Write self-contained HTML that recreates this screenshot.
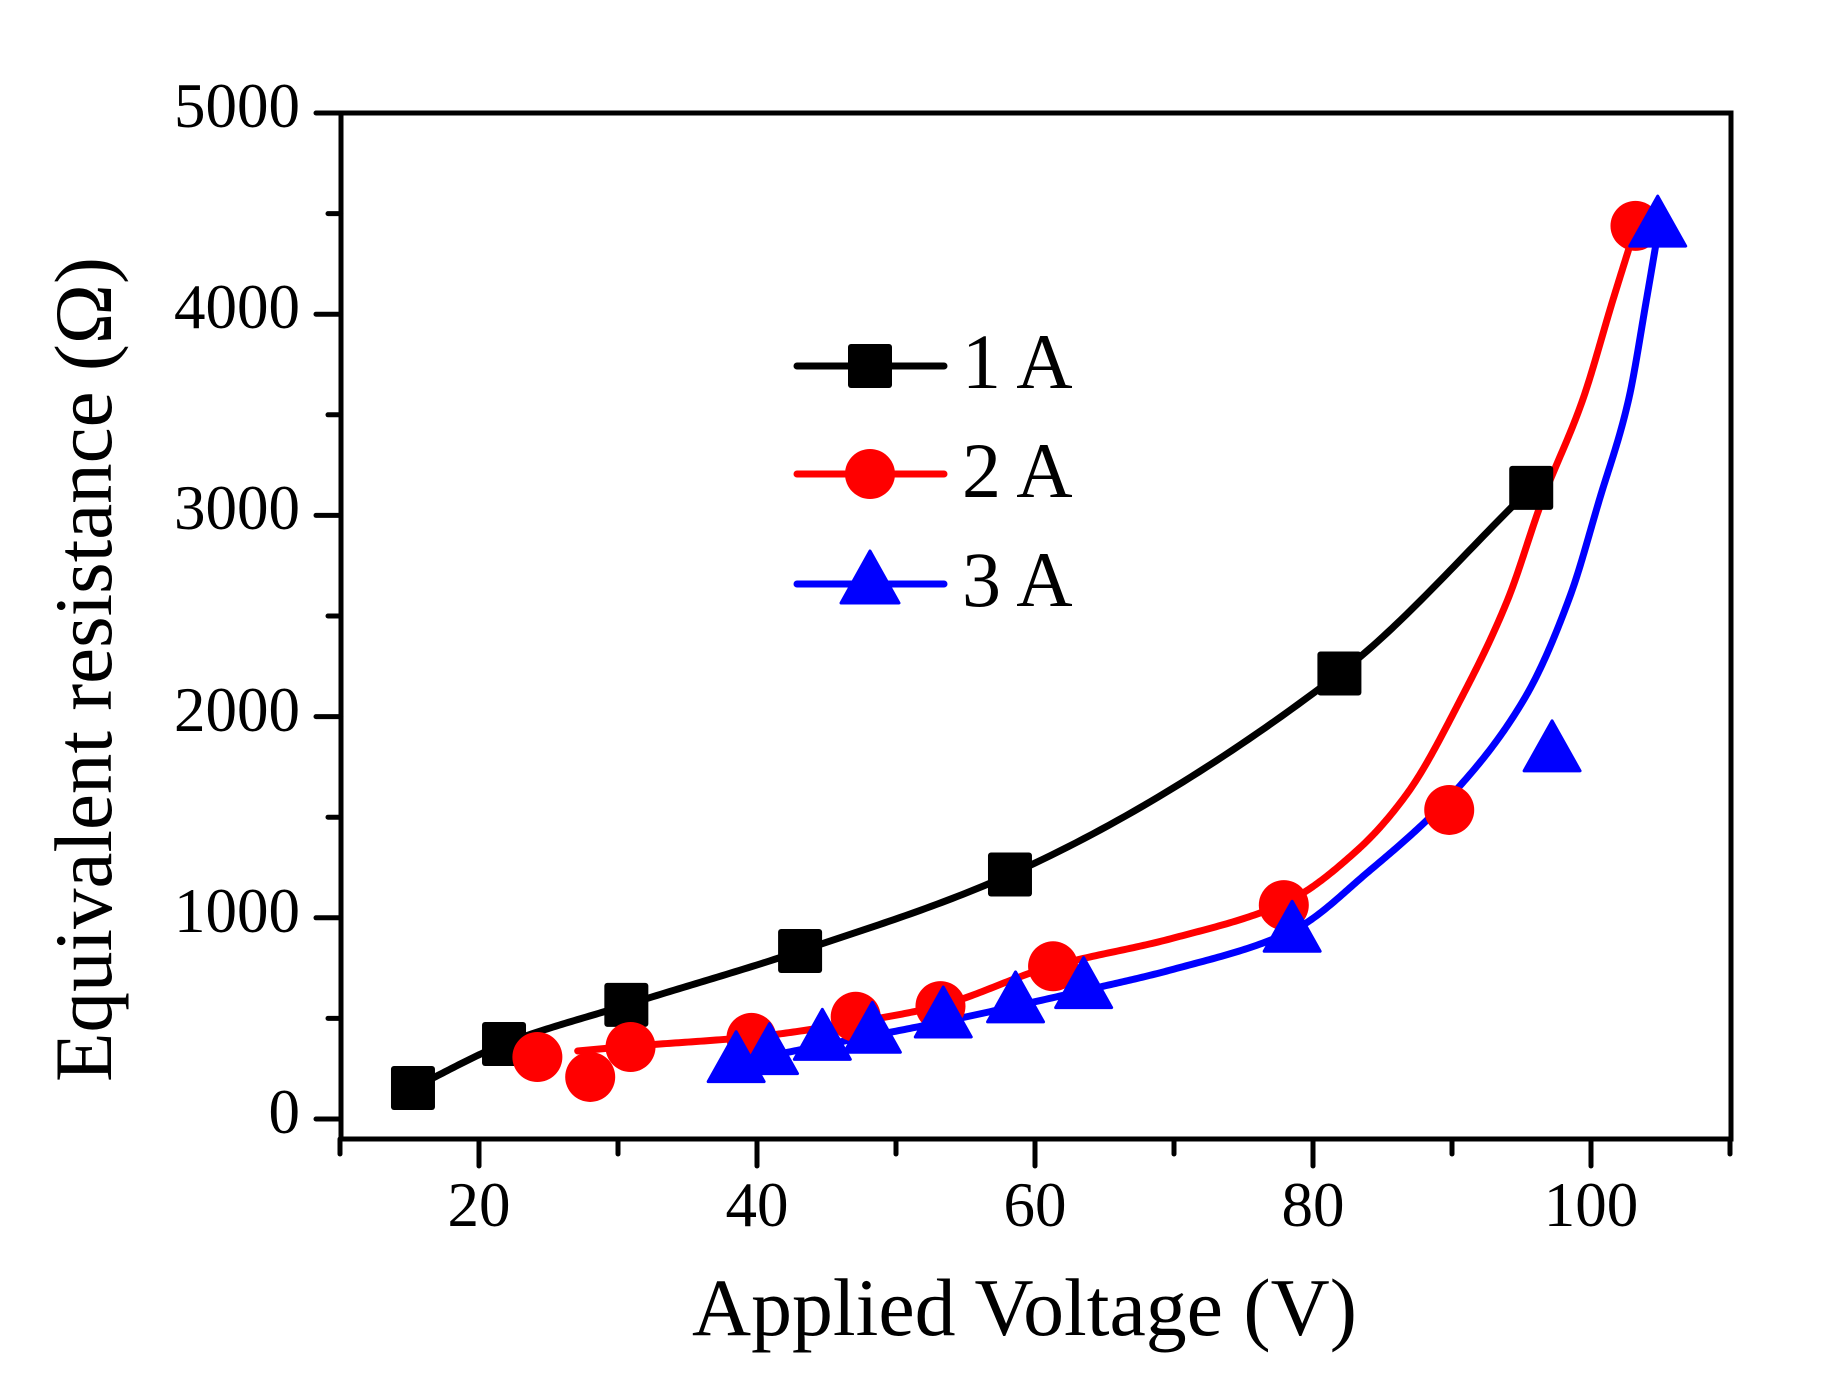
<!DOCTYPE html>
<html><head><meta charset="utf-8"><style>
html,body{margin:0;padding:0;background:#fff;}
svg{display:block;}
text{font-family:"Liberation Serif",serif;fill:#000;}
</style></head><body>
<svg id="s" width="1840" height="1376" viewBox="0 0 1840 1376" xmlns="http://www.w3.org/2000/svg">
<rect width="1840" height="1376" fill="#fff"/>
<g id="curves" fill="none" stroke-width="7" stroke-linejoin="round" stroke-linecap="round"></g>
<g id="marks"></g>
<rect x="341" y="113" width="1390" height="1026" fill="none" stroke="#000" stroke-width="5"/>
<g id="ticks" stroke="#000" stroke-width="5" stroke-linecap="round"></g>
<g font-size="63" text-anchor="end">
<text x="300" y="127">5000</text>
<text x="300" y="328">4000</text>
<text x="300" y="529">3000</text>
<text x="300" y="731">2000</text>
<text x="300" y="932">1000</text>
<text x="300" y="1133">0</text>
</g>
<g font-size="63" text-anchor="middle">
<text x="479" y="1226">20</text>
<text x="757" y="1226">40</text>
<text x="1035" y="1226">60</text>
<text x="1313" y="1226">80</text>
<text x="1591" y="1226">100</text>
</g>
<text x="692" y="1335" font-size="82" textLength="665" lengthAdjust="spacingAndGlyphs">Applied Voltage (V)</text>
<text transform="translate(111,1082) rotate(-90)" font-size="82" textLength="825" lengthAdjust="spacingAndGlyphs">Equivalent resistance (Ω)</text>
<g stroke-width="7" stroke-linecap="round">
<line x1="797" y1="366" x2="944" y2="366" stroke="#000"/>
<line x1="797" y1="474" x2="944" y2="474" stroke="#f00"/>
<line x1="797" y1="584" x2="944" y2="584" stroke="#00f"/>
</g>
<rect x="848" y="344" width="44" height="44" rx="3" fill="#000"/>
<circle cx="870" cy="474" r="25" fill="#f00"/>
<polygon points="870,551 899,603 841,603" fill="#00f" stroke="#00f" stroke-width="3" stroke-linejoin="round"/>
<g font-size="78">
<text x="962" y="388">1 A</text>
<text x="962" y="497">2 A</text>
<text x="962" y="606">3 A</text>
</g>
</svg>
<script>
var NS="http://www.w3.org/2000/svg";
function X(v){return 201+v*13.9;}
function Y(r){return 1119-r*0.2012;}
function mono(pts){
 var n=pts.length,xs=pts.map(function(a){return a[0];}),ys=pts.map(function(a){return a[1];});
 var d=[],m=[];
 for(var i=0;i<n-1;i++)d.push((ys[i+1]-ys[i])/(xs[i+1]-xs[i]));
 m[0]=d[0];m[n-1]=d[n-2];
 for(i=1;i<n-1;i++){ if(d[i-1]*d[i]<=0)m[i]=0; else { var w1=2*(xs[i+1]-xs[i])+(xs[i]-xs[i-1]),w2=(xs[i+1]-xs[i])+2*(xs[i]-xs[i-1]); m[i]=(w1+w2)/(w1/d[i-1]+w2/d[i]); } }
 var s="";
 for(i=0;i<n-1;i++){
  var h=xs[i+1]-xs[i];
  for(var k=0;k<=40;k++){
   var t=k/40,t2=t*t,t3=t2*t;
   var y=(2*t3-3*t2+1)*ys[i]+(t3-2*t2+t)*h*m[i]+(-2*t3+3*t2)*ys[i+1]+(t3-t2)*h*m[i+1];
   var x=xs[i]+t*h;
   s+=(s?"L":"M")+X(x).toFixed(2)+","+Y(y).toFixed(2);
  }
 }
 return s;
}
var black=[[15.25,154],[21.8,373],[30.6,567],[43.1,835],[58.2,1215],[81.9,2214],[95.7,3137]];
var red=[[27.1,338],[31,362],[40,410],[47,480],[53,560],[61,755],[70,900],[78,1075],[83.2,1337],[86.8,1620],[90.6,2083],[94,2580],[96.5,3077],[99.4,3574],[101.6,4076],[103.2,4430]];
var blue=[[38.5,280],[45,370],[53,478],[63,630],[70,745],[78.5,935],[84,1230],[90.1,1620],[95.3,2100],[98.5,2600],[100.6,3077],[102.7,3574],[104,4076],[104.8,4400]];
var cg=document.getElementById("curves");
[[black,"#000"],[red,"#f00"],[blue,"#00f"]].forEach(function(c){
 var e=document.createElementNS(NS,"path");e.setAttribute("d",mono(c[0]));e.setAttribute("stroke",c[1]);cg.appendChild(e);
});
var mg=document.getElementById("marks");
function add(tag,attrs){var e=document.createElementNS(NS,tag);for(var k in attrs)e.setAttribute(k,attrs[k]);mg.appendChild(e);}
var sq=[[15.25,154],[21.8,373],[30.6,567],[43.1,835],[58.2,1215],[81.9,2214],[95.7,3137]];
sq.forEach(function(a){add("rect",{x:X(a[0])-22,y:Y(a[1])-22,width:44,height:44,rx:3,fill:"#000"});});
var ci=[[24.2,308],[28.0,209],[30.9,358],[39.6,403],[47.1,508],[53.2,561],[61.3,759],[77.9,1063],[89.8,1536],[103.2,4439]];
ci.forEach(function(a){add("circle",{cx:X(a[0]),cy:Y(a[1]),r:25,fill:"#f00"});});
var tr=[[38.5,275],[40.9,315],[44.7,386],[48.3,421],[53.4,497],[58.6,572],[63.5,643],[78.5,923],[97.2,1820],[104.8,4428]];
tr.forEach(function(a){var x=X(a[0]),y=Y(a[1]);
 add("polygon",{points:x+","+(y-32)+" "+(x+28)+","+(y+18)+" "+(x-28)+","+(y+18),fill:"#00f",stroke:"#00f","stroke-width":3,"stroke-linejoin":"round"});});
var tg=document.getElementById("ticks");
function ln(x1,y1,x2,y2){var e=document.createElementNS(NS,"line");e.setAttribute("x1",x1);e.setAttribute("y1",y1);e.setAttribute("x2",x2);e.setAttribute("y2",y2);tg.appendChild(e);}
for(var v=10;v<=110;v+=10){var x=X(v);ln(x,1139,x,(v%20==0)?1166:1154);}
for(var r=0;r<=5000;r+=500){var y=Y(r);ln(341,y,(r%1000==0)?316:328,y);}
</script>
</body></html>
